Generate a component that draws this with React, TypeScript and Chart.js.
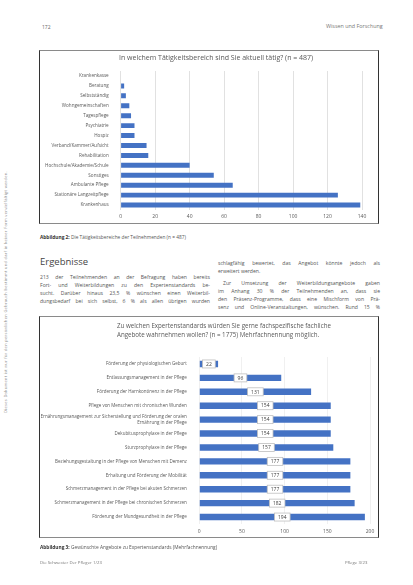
import React, { useEffect, useRef } from 'react';
import { Chart, registerables } from 'chart.js';

Chart.register(...registerables);

const FONT = '"Open Sans", "Noto Sans", sans-serif';
Chart.defaults.font.family = FONT;

// ---------- Chart 1 data ----------
const title1 = 'In welchem Tätigkeitsbereich sind Sie aktuell tätig? (n = 487)';
const cat1 = [
  'Krankenkasse',
  'Beratung',
  'Selbstständig',
  'Wohngemeinschaften',
  'Tagespflege',
  'Psychiatrie',
  'Hospiz',
  'Verband/Kammer/Aufsicht',
  'Rehabilitation',
  'Hochschule/Akademie/Schule',
  'Sonstiges',
  'Ambulante Pflege',
  'Stationäre Langzeitpflege',
  'Krankenhaus',
];
const val1 = [0, 2, 3, 5, 6, 8, 8, 15, 16, 40, 54, 65, 126, 139];
const axis1 = { min: 0, max: 140, step: 20 };

// ---------- Chart 2 data ----------
const title2 = [
  'Zu welchen Expertenstandards würden Sie gerne fachspezifische fachliche',
  'Angebote wahrnehmen wollen? (n = 1775) Mehrfachnennung möglich.',
];
const cat2: (string | string[])[] = [
  'Förderung der physiologischen Geburt',
  'Entlassungsmanagement in der Pflege',
  'Förderung der Harnkontinenz in der Pflege',
  'Pflege von Menschen mit chronischen Wunden',
  ['Ernährungsmanagement zur Sicherstellung und Förderung der oralen', 'Ernährung in der Pflege'],
  'Dekubitusprophylaxe in der Pflege',
  'Sturzprophylaxe in der Pflege',
  'Beziehungsgestaltung in der Pflege von Menschen mit Demenz',
  'Erhaltung und Förderung der Mobilität',
  'Schmerzmanagement in der Pflege bei akuten Schmerzen',
  'Schmerzmanagement in der Pflege bei chronischen Schmerzen',
  'Förderung der Mundgesundheit in der Pflege',
];
const val2 = [22, 96, 131, 154, 154, 154, 157, 177, 177, 177, 182, 194];
const axis2 = { min: 0, max: 200, step: 50 };

const BLUE = '#4472C4';
const TXT = '#595959';

const labelPlugin = {
  id: 'boxLabels',
  afterDatasetsDraw(chart: any) {
    const ctx = chart.ctx;
    const meta = chart.getDatasetMeta(0);
    const data = chart.data.datasets[0].data;
    ctx.save();
    ctx.font = `5px ${FONT}`;
    ctx.textAlign = 'center';
    ctx.textBaseline = 'middle';
    meta.data.forEach((bar: any, i: number) => {
      const cx = (bar.x + bar.base) / 2;
      const cy = bar.y;
      const t = String(data[i]);
      const w = ctx.measureText(t).width + 7;
      const h = 8;
      ctx.fillStyle = '#ffffff';
      ctx.fillRect(cx - w / 2, cy - h / 2, w, h);
      ctx.strokeStyle = '#bfbfbf';
      ctx.lineWidth = 0.8;
      ctx.strokeRect(cx - w / 2, cy - h / 2, w, h);
      ctx.fillStyle = '#404040';
      ctx.fillText(t, cx, cy + 0.3);
    });
    ctx.restore();
  },
};

function ChartBox({ left, top, width, height, make, children }: any) {
  const ref = useRef<HTMLCanvasElement>(null);
  useEffect(() => {
    const chart = new Chart(ref.current as HTMLCanvasElement, make());
    return () => chart.destroy();
  }, []);
  return (
    <div style={{ position: 'absolute', left, top, width, height }}>
      <canvas ref={ref} width={width} height={height} style={{ position: 'absolute', left: 0, top: 0, width, height }} />
      {children}
      <div
        style={{
          position: 'absolute',
          left: 0,
          top: 0,
          width,
          height,
          boxSizing: 'border-box',
          border: '1px solid #8a8a8a',
          borderLeft: '1.5px solid #333',
          borderRight: '1.5px solid #333',
          pointerEvents: 'none',
        }}
      />
    </div>
  );
}

function makeChart1() {
  return {
    type: 'bar',
    data: {
      labels: cat1,
      datasets: [{ data: val1, backgroundColor: BLUE, categoryPercentage: 1, barPercentage: 0.5 }],
    },
    options: {
      indexAxis: 'y',
      animation: false,
      responsive: false,
      devicePixelRatio: 1,
      layout: { padding: { left: 2, right: 17, top: 21, bottom: 0 } },
      plugins: {
        legend: { display: false },
        tooltip: { enabled: false },
        title: { display: false },
      },
      scales: {
        x: {
          min: axis1.min,
          max: axis1.max,
          ticks: { stepSize: axis1.step, color: TXT, font: { size: 5 }, padding: 4 },
          grid: { color: '#d9d9d9', drawTicks: false, lineWidth: 0.8 },
          border: { display: false },
          afterFit: (s: any) => { s.height = 14; },
        },
        y: {
          ticks: { color: TXT, font: { size: 4.6 }, padding: 4, autoSkip: false },
          grid: { display: false },
          border: { display: false },
          afterFit: (s: any) => { s.width = 79.7; },
        },
      },
    },
  };
}

function makeChart2() {
  return {
    type: 'bar',
    data: {
      labels: cat2,
      datasets: [{ data: val2, backgroundColor: BLUE, categoryPercentage: 1, barPercentage: 0.46 }],
    },
    plugins: [labelPlugin],
    options: {
      indexAxis: 'y',
      animation: false,
      responsive: false,
      devicePixelRatio: 1,
      layout: { padding: { left: 2, right: 9, top: 41, bottom: 0 } },
      plugins: {
        legend: { display: false },
        tooltip: { enabled: false },
        title: { display: false },
      },
      scales: {
        x: {
          min: axis2.min,
          max: axis2.max,
          ticks: { stepSize: axis2.step, color: TXT, font: { size: 5 }, padding: 4.5 },
          grid: { color: '#ececec', drawTicks: false, lineWidth: 0.8 },
          border: { display: false },
          afterFit: (s: any) => { s.height = 14; },
        },
        y: {
          ticks: { color: TXT, font: { size: 4.5, lineHeight: 1.2 }, padding: 4.5, autoSkip: false },
          grid: { display: false },
          border: { display: false },
          afterFit: (s: any) => { s.width = 158.3; },
        },
      },
    },
  };
}

function T({ x, y, size, color = '#555', weight = 400, w, justify, children, style }: any) {
  return (
    <div
      style={{
        position: 'absolute',
        left: x,
        top: y - size * 0.65,
        width: w,
        fontFamily: FONT,
        fontSize: size,
        lineHeight: `${size * 1.3}px`,
        color,
        fontWeight: weight,
        whiteSpace: 'nowrap',
        textAlign: justify ? 'justify' : 'left',
        textAlignLast: justify ? 'justify' : 'left',
        ...style,
      }}
    >
      {children}
    </div>
  );
}

const leftCol = [
  '213 der Teilnehmenden an der Befragung haben bereits',
  'Fort- und Weiterbildungen zu den Expertenstandards be-',
  'sucht. Darüber hinaus 23,5 % wünschen einen Weiterbil-',
  'dungsbedarf bei sich selbst, 6 % als allen übrigen wurden',
];
const rightCol = [
  'schlagfähig bewertet, das Angebot könnte jedoch als',
  'erweitert werden.',
  'Zur Umsetzung der Weiterbildungsangebote gaben',
  'im Anhang 30 % der Teilnehmenden an, dass sie',
  'den Präsenz-Programme, dass eine Mischform von Prä-',
  'senz und Online-Veranstaltungen, wünschen. Rund 15 %',
];

export default function App() {
  const leftY = [277, 285, 293, 301];
  const rightY = [263, 271, 283, 291, 299, 307];
  return (
    <div style={{ position: 'absolute', left: 0, top: 0, width: 413, height: 585, background: '#fff', overflow: 'hidden' }}>
      <div
        style={{
          position: 'absolute',
          left: 5,
          top: 292,
          transform: 'translate(-50%, -50%) rotate(-90deg)',
          fontFamily: FONT,
          fontSize: 4,
          color: '#888',
          whiteSpace: 'nowrap',
          letterSpacing: 0.3,
        }}
      >
        Dieses Dokument ist nur für den persönlichen Gebrauch bestimmt und darf in keiner Form vervielfältigt werden.
      </div>
      <T x={42} y={27} size={5} color="#666">172</T>
      <T x={326} y={27} size={5.4} color="#777">Wissen und Forschung</T>

      <ChartBox left={39} top={50} width={340} height={174} make={makeChart1}>
        <T x={80} y={7.5} size={7} color={TXT}>{title1}</T>
      </ChartBox>

      <T x={40} y={237} size={4.8} color="#555">
        <b style={{ color: '#333' }}>Abbildung 2:</b> Die Tätigkeitsbereiche der Teilnehmenden (n = 487)
      </T>

      <T x={40} y={262} size={9.5} color="#444" weight={500}>Ergebnisse</T>
      {leftCol.map((l, i) => (
        <T key={'l' + i} x={40} y={leftY[i]} size={5.1} w={170} justify color="#555">{l}</T>
      ))}
      {rightCol.map((l, i) => (
        <T
          key={'r' + i}
          x={i === 2 ? 223 : 218}
          y={rightY[i]}
          size={5.1}
          w={i === 2 ? 157 : 162}
          justify={i !== 1}
          color="#555"
        >
          {l}
        </T>
      ))}

      <ChartBox left={39} top={316} width={340} height={222} make={makeChart2}>
        <T x={78} y={10} size={6.2} color={TXT}>{title2[0]}</T>
        <T x={78} y={19.5} size={6.2} color={TXT}>{title2[1]}</T>
      </ChartBox>

      <T x={40} y={547} size={4.8} color="#555">
        <b style={{ color: '#333' }}>Abbildung 3:</b> Gewünschte Angebote zu Expertenstandards (Mehrfachnennung)
      </T>
      <T x={40} y={563} size={4.3} color="#777">Die Schwester Der Pfleger 1/23</T>
      <T x={345} y={563} size={4.3} color="#777">Pflege 3/23</T>
    </div>
  );
}
